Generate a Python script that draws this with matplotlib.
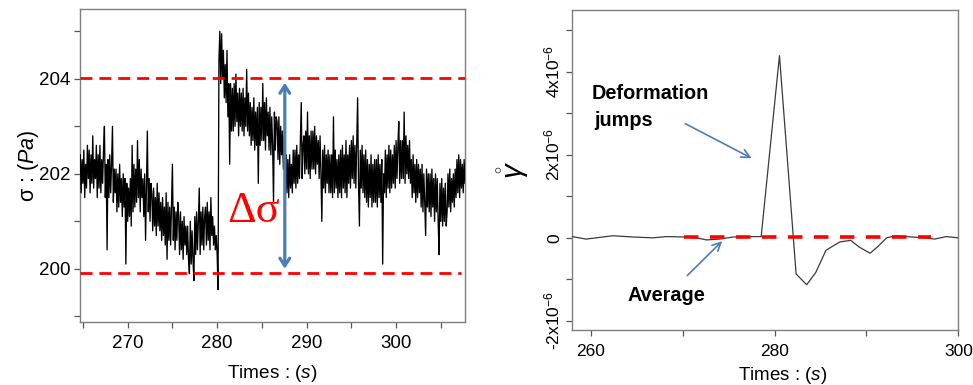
import numpy as np
import matplotlib
matplotlib.use('Agg')
import matplotlib.pyplot as plt

plt.rcParams['font.family'] = ['Liberation Sans', 'DejaVu Sans']
plt.rcParams['mathtext.fontset'] = 'custom'
plt.rcParams['mathtext.rm'] = 'Liberation Sans'
plt.rcParams['mathtext.it'] = 'Liberation Sans:italic'
plt.rcParams['mathtext.bf'] = 'Liberation Sans:bold'
plt.rcParams['mathtext.sf'] = 'Liberation Sans'

# ---------------- data: left panel (stress signal) ----------------
sigma_t0 = 264.7       # s, first sample
sigma_dt = 0.1         # s, sampling step
sigma_values = [
    202.4, 201.6, 202.3, 201.8, 202.5, 201.5, 202.2, 201.7, 202.6, 201.9,
    202.5, 201.6, 202.4, 201.8, 202.8, 201.7, 202.3, 201.9, 202.6, 201.5,
    202.4, 201.7, 202.6, 201.6, 202.3, 201.8, 202.5, 203.0, 201.5, 202.2,
    200.4, 202.3, 201.5, 202.4, 201.6, 202.2, 203.0, 201.4, 202.1, 201.6,
    202.1, 201.2, 202.0, 201.3, 202.2, 201.4, 201.9, 201.1, 202.0, 201.3,
    201.9, 200.1, 201.8, 201.0, 201.7, 201.1, 201.9, 200.9, 202.6, 201.2,
    202.2, 201.3, 202.1, 201.4, 202.7, 201.5, 202.3, 201.2, 202.1, 201.5,
    201.9, 201.1, 202.0, 200.6, 201.8, 202.9, 201.2, 201.9, 201.0, 201.8,
    201.6, 200.8, 201.7, 200.9, 201.5, 200.7, 201.8, 200.9, 201.6, 200.8,
    201.4, 200.6, 201.5, 200.7, 201.3, 200.5, 201.6, 200.2, 201.4, 200.6,
    201.3, 200.5, 201.4, 202.2, 200.6, 201.3, 200.4, 201.2, 200.6, 201.4,
    201.1, 200.3, 201.2, 200.4, 201.0, 200.2, 201.1, 200.5, 200.9, 200.3,
    200.9, 200.2, 199.9, 201.0, 200.1, 200.8, 200.2, 199.75, 201.1, 200.3,
    201.2, 200.4, 201.0, 201.7, 200.3, 201.2, 200.5, 201.3, 200.4, 201.1,
    201.3, 200.5, 201.4, 200.6, 201.2, 200.4, 201.5, 200.7, 201.1, 200.5,
    200.9, 200.4, 200.7, 200.3, 199.56, 204.4, 205.0, 203.9, 204.95, 204.0,
    204.6, 203.6, 204.3, 203.5, 204.6, 203.2, 203.9, 202.2, 203.9, 202.9,
    203.8, 202.9, 203.9, 203.0, 204.1, 203.1, 203.7, 202.8, 203.8, 203.0,
    203.7, 202.9, 203.8, 202.8, 203.6, 203.0, 204.2, 202.9, 203.7, 202.8,
    203.5, 202.6, 203.4, 202.7, 203.6, 202.5, 203.3, 202.6, 203.4, 201.8,
    203.5, 202.6, 203.4, 202.7, 203.9, 202.7, 203.5, 202.5, 203.6, 202.8,
    203.3, 202.5, 203.4, 202.4, 203.2, 202.6, 201.4, 203.3, 202.5, 203.2,
    203.1, 202.3, 203.2, 202.2, 203.0, 202.4, 202.9, 202.1, 202.8, 202.2,
    202.4, 201.6, 202.3, 201.5, 202.4, 201.7, 202.2, 201.6, 202.5, 201.8,
    202.5, 201.7, 202.6, 201.8, 202.4, 201.9, 202.7, 203.5, 201.9, 202.6,
    202.8, 202.0, 202.9, 202.1, 203.3, 202.0, 202.8, 201.9, 202.9, 202.1,
    202.9, 202.1, 203.0, 202.0, 202.8, 202.2, 202.7, 201.9, 202.8, 202.0,
    201.0, 202.5, 201.7, 202.6, 201.6, 202.4, 201.8, 202.5, 201.6, 202.4,
    201.6, 202.4, 201.5, 203.2, 201.6, 202.5, 201.7, 202.3, 201.5, 202.4,
    201.6, 202.5, 201.5, 202.6, 201.7, 202.4, 201.6, 202.7, 201.5, 202.4,
    201.8, 202.6, 201.7, 202.7, 201.9, 202.8, 201.8, 202.6, 201.7, 202.7,
    203.6, 201.8, 200.9, 202.5, 201.7, 202.6, 201.6, 202.4, 201.5, 202.5,
    201.4, 202.3, 201.3, 202.2, 201.5, 202.4, 201.3, 202.2, 201.4, 202.3,
    201.4, 202.3, 201.3, 202.4, 201.5, 202.2, 201.4, 202.3, 200.1, 202.0,
    201.6, 202.5, 201.5, 202.4, 201.7, 202.6, 201.6, 202.5, 201.7, 202.4,
    201.8, 202.6, 201.7, 202.7, 201.9, 202.6, 203.1, 201.8, 202.7, 201.9,
    202.7, 201.9, 203.3, 201.8, 202.8, 202.0, 202.6, 201.9, 202.7, 201.8,
    202.3, 201.5, 202.4, 201.6, 202.2, 201.4, 202.3, 201.5, 202.2, 201.6,
    202.1, 201.3, 202.2, 201.2, 202.0, 201.4, 200.7, 202.1, 201.3, 202.0,
    201.2, 202.0, 201.1, 202.1, 201.3, 201.9, 201.0, 202.0, 201.2, 201.9,
    201.0, 200.3, 201.8, 201.0, 201.9, 200.9, 201.7, 201.0, 201.8, 200.9,
    201.2, 202.0, 201.3, 202.1, 201.2, 201.9, 201.4, 202.0, 201.3, 202.1,
    201.5, 202.3, 201.6, 202.4, 201.5, 202.3, 201.7, 202.2, 201.6, 202.3,
    201.8,
]
sigma_upper = 204.02
sigma_lower = 199.92
delta_x = 287.56
sigma_xticks = [270, 280, 290, 300]
sigma_yticks = [200, 202, 204]

# ---------------- data: right panel (shear rate) ----------------
gamma_time = [258.0, 259.5, 262.4, 264.6, 266.8, 268.2, 270.4, 271.5, 272.6,
              274.0, 275.5, 276.9, 278.55, 280.54, 282.35, 283.5, 284.5,
              285.6, 287.1, 288.3, 289.2, 290.4, 291.2, 292.2, 293.2, 295.0,
              296.5, 297.4, 298.7, 300.0]
gamma_values = [0.03, -0.03, 0.05, 0.02, 0.0, 0.03, 0.02, 0.0, -0.05,
                -0.03, 0.02, 0.03, 0.03, 4.39, -0.87, -1.13, -0.83,
                -0.30, -0.10, -0.06, -0.22, -0.37, -0.22, 0.0, 0.05, 0.02,
                0.0, -0.03, 0.03, 0.0]          # x 1e-6
gamma_scale = 1e-6
gamma_avg = 0.015
gamma_avg_range = [270.2, 297.0]
gamma_xticks = [260, 280, 300]
gamma_yticks = [-2, 0, 2, 4]
gamma_yticklabels = ['-2x10$^{\\mathregular{-6}}$', '0',
                     '2x10$^{\\mathregular{-6}}$', '4x10$^{\\mathregular{-6}}$']

# ---------------- figure ----------------
fig = plt.figure(figsize=(9.73, 3.85), dpi=100)
frame_col = '#7f7f7f'
red = '#ff0000'
blue = '#4a7ebb'

ax1 = fig.add_axes([0.0822, 0.1636, 0.3957, 0.8130])
ax2 = fig.add_axes([0.5882, 0.1429, 0.3967, 0.8312])

# left
sigma_time = sigma_t0 + sigma_dt * np.arange(len(sigma_values))
ax1.plot(sigma_time, sigma_values, color='black', lw=0.95, zorder=3)
ax1.axhline(sigma_upper, xmin=0.0, xmax=1.0, color=red, lw=2.0,
            dashes=(4.3, 2.5), zorder=4)
ax1.plot([264.67, 307.2], [sigma_lower, sigma_lower], color=red, lw=2.0,
         dashes=(4.3, 2.5), zorder=4)
ax1.annotate('', xy=(delta_x, sigma_upper - 0.1), xytext=(delta_x, sigma_lower + 0.08),
             arrowprops=dict(arrowstyle='<->,head_length=0.55,head_width=0.35',
                             color=blue, lw=2.3, shrinkA=0, shrinkB=0), zorder=5)
ax1.text(284.1, 201.22, 'Δσ', color=red, fontsize=32, ha='center', va='center',
         family=['Liberation Serif', 'DejaVu Serif'], zorder=6)
ax1.set_xlim(264.67, 307.7)
ax1.set_ylim(198.88, 205.47)
ax1.set_xticks(sigma_xticks)
ax1.set_xticks([265, 275, 285, 295, 305], minor=True)
ax1.set_yticks(sigma_yticks)
ax1.set_yticks([199, 201, 203, 205], minor=True)
ax1.set_xlabel('Times : $\\mathit{(s)}$', fontsize=13.7, labelpad=8)
ax1.set_ylabel('σ : ($\\mathit{Pa}$)', fontsize=15.5)
ax1.yaxis.set_label_coords(-0.10, 0.5)

# right
ax2.plot(gamma_time, np.array(gamma_values) * gamma_scale, color='#3a3a3a', lw=0.9, zorder=3)
ax2.plot(gamma_avg_range, [gamma_avg * gamma_scale] * 2, color=red, lw=2.6,
         dashes=(4.0, 3.2), zorder=4)
ax2.set_xlim(258, 300)
ax2.set_ylim(-2.22e-6, 5.49e-6)
ax2.set_xticks(gamma_xticks)
ax2.set_xticks([270, 290], minor=True)
ax2.set_yticks([v * gamma_scale for v in gamma_yticks])
ax2.set_yticklabels(gamma_yticklabels, rotation=90, va='center')
ax2.set_yticks([v * gamma_scale for v in [-1, 1, 3, 5]], minor=True)
ax2.set_xlabel('Times : $\\mathit{(s)}$', fontsize=13.5)
ax2.xaxis.set_label_coords(0.545, -0.11)
ax2.set_ylabel('$\\mathring{\\gamma}$', fontsize=21, rotation=90, labelpad=8)

ax2.text(260.1, 3.47e-6, 'Deformation', fontsize=14.3, fontweight='bold',
         ha='left', va='center')
ax2.text(260.4, 2.83e-6, 'jumps', fontsize=14.3, fontweight='bold',
         ha='left', va='center')
ax2.text(268.2, -1.39e-6, 'Average', fontsize=14.3, fontweight='bold',
         ha='center', va='center')
ax2.annotate('', xy=(277.5, 1.92e-6), xytext=(270.3, 2.75e-6),
             arrowprops=dict(arrowstyle='->,head_length=0.6,head_width=0.3',
                             color=blue, lw=1.2, shrinkA=0, shrinkB=0))
ax2.annotate('', xy=(274.3, -0.08e-6), xytext=(270.5, -0.91e-6),
             arrowprops=dict(arrowstyle='->,head_length=0.6,head_width=0.3',
                             color=blue, lw=1.2, shrinkA=0, shrinkB=0))

for ax in (ax1, ax2):
    for s in ax.spines.values():
        s.set_color(frame_col)
        s.set_linewidth(1.0)
    ax.tick_params(which='both', direction='out', length=4, width=0.9,
                   color='#555555', top=False, right=False)
ax1.tick_params(labelsize=13.5)
ax1.tick_params(axis='y', pad=3)
ax1.tick_params(axis='x', pad=5)
ax2.tick_params(labelsize=12.5)
ax2.tick_params(axis='x', pad=6)

fig.savefig('out.png', dpi=100)
